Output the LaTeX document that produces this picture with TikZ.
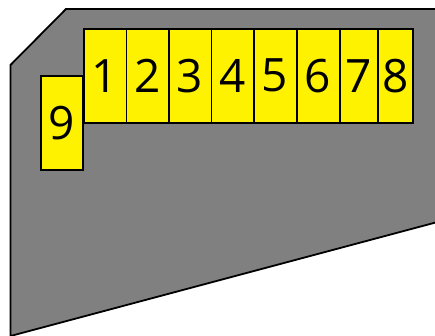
\documentclass[tikz,border=0pt]{standalone}
\usepackage{fontspec}
\setmainfont{Open Sans}
\definecolor{padyellow}{RGB}{255,242,0}
\definecolor{cardgray}{RGB}{128,128,128}
\begin{document}
\begin{tikzpicture}[x=1pt,y=-1pt,
  pad/.style={draw=black,line width=1.6pt,fill=padyellow,font=\fontsize{46}{46}\selectfont,inner sep=0pt,anchor=north west}]
\useasboundingbox (0,0) rectangle (435,336);
\begin{scope}
\clip (0,0) rectangle (435,336);
\draw[fill=cardgray,line width=1.8pt,line join=miter] (66,9) -- (445,9) -- (445,220) -- (10.5,336) -- (10.5,65) -- cycle;
\end{scope}
\node[pad,minimum width=42pt,minimum height=94pt] (p9) at (40,75.5) {9};
\node[pad,minimum width=42.5pt,minimum height=94pt] (p1) at (83,28) {1};
\node[pad,minimum width=42.5pt,minimum height=94pt] (p2) at (125.5,28) {2};
\node[pad,minimum width=42.5pt,minimum height=94pt] (p3) at (168,28) {3};
\node[pad,minimum width=42.5pt,minimum height=94pt] (p4) at (210.5,28) {4};
\node[pad,minimum width=42.5pt,minimum height=94pt] (p5) at (253,28) {5};
\node[pad,minimum width=42.5pt,minimum height=94pt] (p6) at (296,28) {6};
\node[pad,minimum width=38pt,minimum height=94pt] (p7) at (339,28) {7};
\node[pad,minimum width=35pt,minimum height=94pt] (p8) at (377,28) {8};
\end{tikzpicture}
\end{document}
